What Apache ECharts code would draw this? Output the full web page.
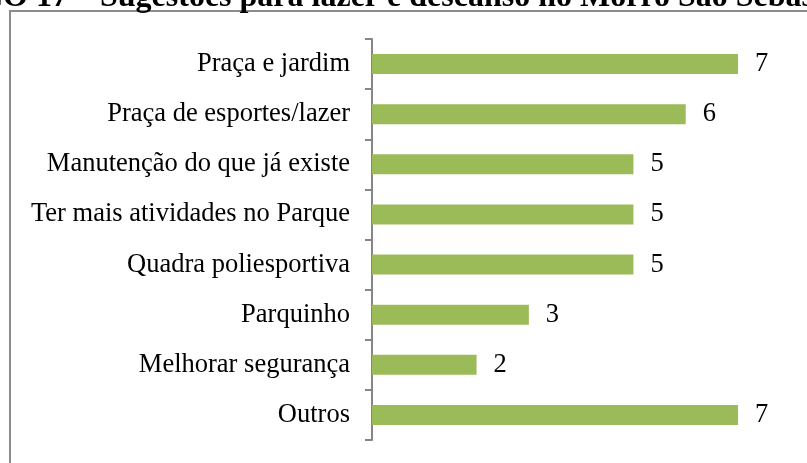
<!DOCTYPE html>
<html>
<head>
<meta charset="utf-8">
<script src="https://cdn.jsdelivr.net/npm/echarts@6/dist/echarts.min.js"></script>
<style>html,body{margin:0;padding:0;background:#fff}#c{width:807px;height:463px}</style>
</head>
<body>
<div id="c"></div>
<script>
const categories = ["Praça e jardim","Praça de esportes/lazer","Manutenção do que já existe","Ter mais atividades no Parque","Quadra poliesportiva","Parquinho","Melhorar segurança","Outros"];
const values = [7,6,5,5,5,3,2,7];
const titleLead = "GRÁFICO 17 –";
const titleText = "Sugestões para lazer e descanso no Morro São Sebastião";

const chart = echarts.init(document.getElementById('c'), null, {renderer:'canvas'});
const font = '"Liberation Serif","Times New Roman",serif';
chart.setOption({
  animation:false,
  backgroundColor:'#fff',
  graphic:[
    {type:'rect', shape:{x:10,y:11,width:900,height:480}, style:{fill:'none',stroke:'#8c8c8c',lineWidth:2}, z:0},
    {type:'text', x:92, y:-2, style:{text:titleLead, font:'bold 32px '+font, fill:'#000', align:'right', verticalAlign:'middle'}},
    {type:'text', x:100, y:-2, style:{text:titleText, font:'bold 32px '+font, fill:'#000', align:'left', verticalAlign:'middle'}}
  ],
  grid:{left:372, right:69, top:39, bottom:23, containLabel:false},
  xAxis:{type:'value', min:0, max:7, show:false},
  yAxis:{type:'category', data:categories, inverse:true,
    axisLine:{show:true, lineStyle:{color:'#868686', width:2}},
    axisTick:{show:true, length:7, lineStyle:{color:'#868686', width:2}},
    axisLabel:{margin:22, color:'#000', fontSize:26.5, fontFamily:font},
    splitLine:{show:false}
  },
  series:[{type:'bar', data:values, barWidth:20,
    itemStyle:{color:'#9BBB59'},
    label:{show:true, position:'right', distance:17, color:'#000', fontSize:26.5, fontFamily:font}
  }]
});
</script>
</body>
</html>
